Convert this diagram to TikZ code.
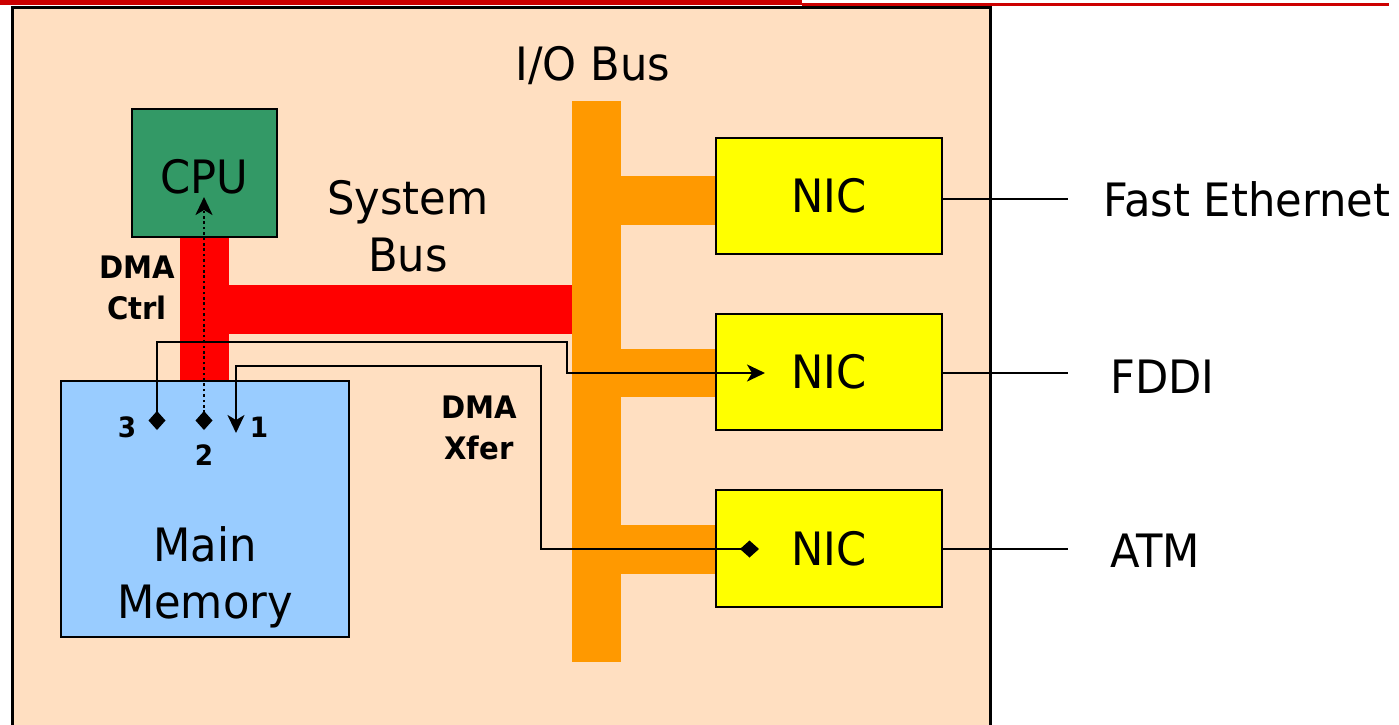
\documentclass[tikz,border=0pt]{standalone}
\usepackage{fontspec}
\setmainfont{DejaVu Sans}[FakeStretch=0.94]
\usetikzlibrary{arrows.meta}
\definecolor{peach}{HTML}{FFDFC1}
\definecolor{busred}{HTML}{FF0000}
\definecolor{busorange}{HTML}{FF9900}
\definecolor{nicyellow}{HTML}{FFFF00}
\definecolor{cpugreen}{HTML}{339966}
\definecolor{memblue}{HTML}{99CCFF}
\definecolor{topred}{HTML}{CC0000}
\begin{document}
\begin{tikzpicture}[x=1pt,y=-1pt,
  box/.style={draw=black,line width=2.6pt,inner sep=0pt,outer sep=0pt,font=\fontsize{46}{57}\selectfont},
  bigtext/.style={inner sep=0pt,font=\fontsize{46}{57}\selectfont,align=center},
  boldtext/.style={inner sep=0pt,font=\bfseries\fontsize{31}{41}\selectfont,align=center},
  numtext/.style={inner sep=0pt,font=\bfseries\fontsize{28}{34}\selectfont},
  wire/.style={line width=2.6pt},
  flow/.style={line width=2.4pt},
  dmaflow/.style={flow,{Diamond[length=19pt,width=17pt]}-{Stealth[length=18pt,width=17pt,inset=5pt]}},
  ctrlflow/.style={flow,line width=2.6pt,dash pattern=on 2.6pt off 2.8pt,{Diamond[length=19pt,width=17pt]}-{Stealth[length=18pt,width=17pt,inset=5pt]}}
]
\clip (0,0) rectangle (1399,724);
\fill[white] (0,0) rectangle (1399,724);
% top rule
\fill[topred] (0,0) rectangle (802,5);
\fill[topred] (802,3) rectangle (1389,5.5);
% outer frame
\draw[fill=peach,line width=3pt] (12,7.5) rectangle (990,740);
% system bus
\fill[busred] (180,237) rectangle (229,381);
\fill[busred] (229,285) rectangle (573,334);
% I/O bus
\fill[busorange] (572,101) rectangle (621,662);
\fill[busorange] (621,176) rectangle (717,225);
\fill[busorange] (621,349) rectangle (717,397);
\fill[busorange] (621,525) rectangle (717,574);
% boxes
\node[box,fill=cpugreen,minimum width=145pt,minimum height=128pt] (cpu) at (204.5,173) {};
\node[box,fill=memblue,line width=2.2pt,minimum width=288pt,minimum height=256pt] (mem) at (205,509) {};
\node[box,fill=nicyellow,minimum width=226pt,minimum height=116pt] (nic1) at (829,196) {NIC};
\node[box,fill=nicyellow,minimum width=226pt,minimum height=116pt] (nic2) at (829,372) {NIC};
\node[box,fill=nicyellow,minimum width=226pt,minimum height=117pt] (nic3) at (829,548.5) {NIC};
% texts
\node[bigtext,anchor=base] (cpulabel) at (204,193) {CPU};
\node[bigtext,anchor=base] (iobus) at (593,80) {I/O Bus};
\node[bigtext,anchor=north] (sysbus) at (408,180) {System\\Bus};
\node[bigtext,anchor=north] (memlabel) at (205,526) {Main\\Memory};
\node[boldtext,anchor=north] (dmactrl) at (137,256) {DMA\\Ctrl};
\node[boldtext,anchor=north] (dmaxfer) at (479,396) {DMA\\Xfer};
\node[numtext,anchor=base] (n3) at (127,437) {3};
\node[numtext,anchor=base] (n2) at (204,465) {2};
\node[numtext,anchor=base] (n1) at (259,437) {1};
\node[bigtext,anchor=base west] (fe) at (1103,216) {Fast Ethernet};
\node[bigtext,anchor=base west] (fddi) at (1110,393) {FDDI};
\node[bigtext,anchor=base west] (atm) at (1110,567) {ATM};
% network links
\coordinate (fe-end) at (1068,199);
\coordinate (fddi-end) at (1068,373);
\coordinate (atm-end) at (1068,549);
\draw[wire] (nic1.east |- fe-end) -- (fe-end);
\draw[wire] (nic2.east |- fddi-end) -- (fddi-end);
\draw[wire] (nic3.east |- atm-end) -- (atm-end);
% DMA flows
\coordinate (m3) at (157,430);
\coordinate (m2) at (204,430);
\coordinate (m1) at (236,433);
\coordinate (cpuin) at (204,197);
\coordinate (nic2in) at (765,373);
\coordinate (nic3out) at (759,549);
\draw[dmaflow] (nic3out) -- (541,549) -- (541,366) -- (236,366) -- (m1);
\draw[ctrlflow] (m2) -- (cpuin);
\draw[dmaflow] (m3) -- (157,342) -- (567,342) -- (567,373) -- (nic2in);
\end{tikzpicture}
\end{document}
